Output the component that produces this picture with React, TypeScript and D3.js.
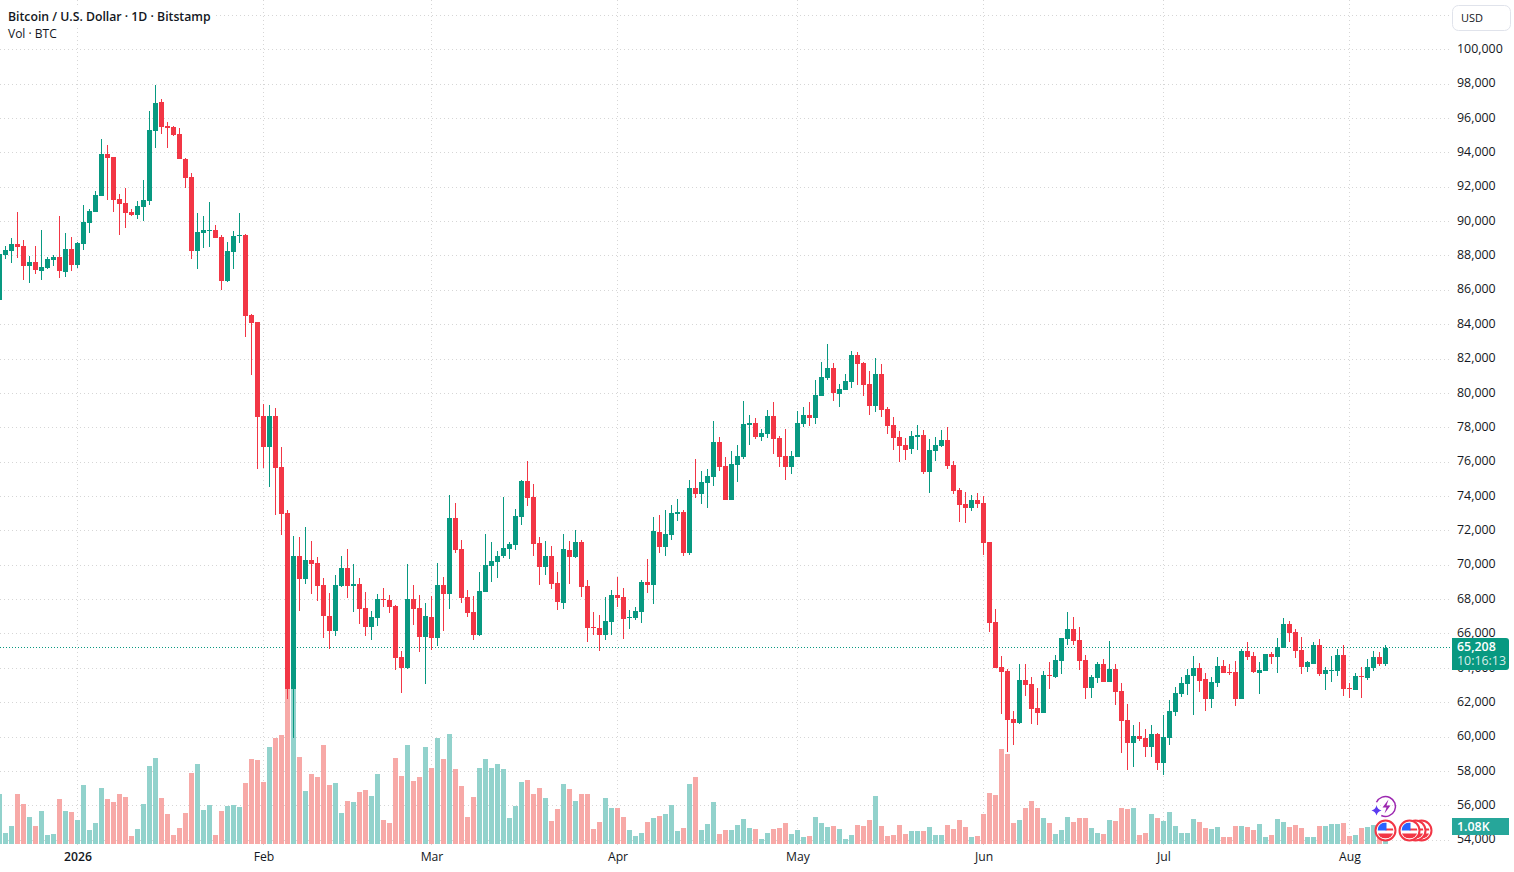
import * as d3 from "d3";
import { useEffect, useRef } from "react";

const WIDTH = 1514;
const HEIGHT = 872;
const FONT = '"Open Sans", "Noto Sans", sans-serif';

const UP = "#089981";
const DOWN = "#f23645";
const VOL_UP = "#92d2cc";
const VOL_DOWN = "#f7a9a7";

// daily candles, first one is 19 Dec 2025
const firstDay = new Date(Date.UTC(2025, 11, 19));

const opens = [
  85450, 88057, 88289, 88694, 88579, 87421, 87652, 87131, 87305, 87768,
  87942, 87073, 88405, 87479, 88694, 89910, 90547, 91474, 93905, 93732,
  91300, 91068, 90547, 90373, 90837, 91184, 95295, 96974, 95585, 95527,
  95121, 93616, 92574, 88289, 89331, 89447, 89505, 89100, 86552, 88231,
  89158, 89215, 84547, 84140, 78669, 76865, 78669, 75701, 73023, 62780,
  70521, 69182, 70288, 70113, 68833, 67029, 66156, 68775, 69822, 68775,
  68891, 67494, 66389, 66913, 68018, 67960, 67611, 64643, 64002, 68018,
  67494, 65807, 66971, 65773, 68858, 68334, 72757, 70953, 68160, 67287,
  65948, 68451, 69964, 70197, 70546, 70953, 71186, 72816, 74911, 73980,
  71302, 69906, 70546, 68975, 67811, 70895, 70488, 71361, 68800, 66413,
  66355, 65948, 66705, 68276, 68160, 66938, 66938, 67287, 69033, 68858,
  71916, 71043, 71741, 72963, 73080, 70693, 74476, 74127, 74767, 75117,
  77154, 75757, 73778, 75815, 76281, 78143, 78259, 77445, 77619, 78667,
  77387, 76339, 75699, 76281, 78201, 78725, 78550, 79831, 80878, 81460,
  79947, 80180, 80646, 82217, 81751, 80529, 79249, 81111, 79091, 78160,
  77462, 76996, 76763, 77462, 77578, 75425, 76647, 76938, 77287, 75832,
  74377, 73562, 73329, 73795, 73620, 71351, 66695, 64076, 63843, 61049,
  60816, 63319, 63086, 61689, 61398, 63595, 63479, 64410, 65690, 66272,
  65632, 64468, 62838, 63420, 64235, 63188, 63944, 62664, 60976, 59637,
  60045, 59928, 59405, 60161, 58473, 59928, 61442, 62489, 63071, 63537,
  64002, 63362, 62198, 63129, 64119, 63770, 63767, 62195, 64989, 64698,
  63708, 63825, 64814, 64640, 65163, 66560, 66095, 65047, 64057, 64232,
  65338, 63650, 63825, 63825, 64756, 62835, 62719, 63534, 63417, 63999,
  64640, 64232,
];

const highs = [
  88200, 88579, 89042, 90547, 88926, 87999, 88579, 89505, 87942, 88058,
  90316, 89331, 89100, 88810, 90953, 90721, 91763, 94832, 94427, 93732,
  91590, 91937, 90721, 91184, 92400, 96453, 97958, 97148, 95816, 95585,
  95469, 93674, 92805, 90489, 90316, 91126, 89795, 89215, 88810, 89447,
  90489, 89273, 84605, 84140, 79367, 79309, 79134, 76865, 73198, 71685,
  71627, 72209, 71394, 70463, 69240, 68367, 69415, 70521, 70928, 70055,
  69240, 68426, 67320, 68309, 68658, 68251, 67669, 64992, 70055, 68833,
  68251, 67786, 68193, 70138, 69324, 74096, 73630, 71477, 68567, 68218,
  69615, 71826, 71361, 70837, 73980, 71361, 73281, 74969, 76075, 74736,
  71652, 71419, 71128, 69615, 71826, 71419, 72059, 71477, 69149, 67287,
  67112, 68160, 68567, 69324, 68683, 67403, 67578, 69149, 70371, 72789,
  72905, 73196, 73487, 73836, 73196, 74942, 76164, 75466, 75582, 78376,
  77445, 76281, 76630, 76979, 79540, 78725, 78550, 77910, 79016, 79482,
  77503, 77910, 76630, 78958, 79191, 79482, 80762, 81810, 82857, 81751,
  80529, 81111, 82450, 82392, 81810, 81286, 82042, 81693, 79208, 78626,
  77811, 77403, 77811, 78160, 77869, 77345, 77462, 77869, 78044, 76065,
  74493, 74261, 74086, 74202, 74028, 71351, 67451, 64716, 63959, 61515,
  64250, 64250, 63494, 62853, 63843, 64352, 64759, 65748, 67262, 66971,
  66389, 64759, 63595, 64352, 64526, 65574, 64235, 63129, 61907, 60685,
  60860, 60452, 60685, 60219, 61267, 62140, 62897, 63479, 63944, 64701,
  64293, 63711, 63479, 64642, 64468, 64235, 64407, 65105, 65513, 64931,
  64349, 64814, 64931, 65745, 66909, 66735, 66269, 65804, 64407, 65513,
  65687, 64057, 64698, 65105, 65338, 63126, 63708, 64057, 64523, 64989,
  64931, 65338,
];

const lows = [
  85300, 87826, 87594, 87884, 86610, 86436, 86957, 86610, 87247, 87421,
  86726, 86784, 87131, 87305, 88347, 89331, 90547, 91474, 91242, 90547,
  89215, 89621, 90316, 90142, 90026, 90953, 94253, 95121, 94253, 95005,
  93616, 91937, 87826, 87247, 88463, 88521, 89042, 86031, 86494, 87247,
  88752, 83286, 81055, 75584, 75642, 74537, 72907, 71743, 62198, 59965,
  67320, 68891, 68309, 67902, 65748, 65108, 65865, 68717, 68076, 67262,
  66563, 65865, 65632, 66447, 67553, 67203, 63886, 62547, 63944, 66505,
  64934, 63071, 65050, 65308, 66181, 67461, 70720, 67810, 66996, 65657,
  65890, 68451, 69033, 69265, 70429, 70371, 70895, 72350, 73456, 70546,
  68858, 69440, 68625, 67403, 67461, 68916, 70429, 68160, 65541, 65948,
  65017, 65657, 65948, 67578, 65715, 66297, 66821, 66646, 68392, 67752,
  70693, 70519, 71450, 72556, 70519, 70577, 73894, 73545, 73312, 74593,
  75466, 73778, 73778, 74826, 76164, 76979, 77328, 77212, 77387, 76455,
  75699, 74942, 75291, 76281, 78027, 78085, 78201, 79831, 80762, 79540,
  79191, 80180, 80296, 80471, 79831, 78725, 78900, 78609, 77636, 76705,
  76007, 76123, 76472, 76705, 75308, 74202, 76065, 76880, 75599, 74144,
  72515, 72456, 73155, 73329, 70594, 66113, 64017, 61340, 59129, 59536,
  60758, 62388, 60758, 60700, 61398, 62780, 63420, 63653, 65341, 65341,
  63886, 62198, 62256, 63129, 63188, 63188, 61849, 59055, 58066, 58241,
  59754, 58822, 58822, 58066, 57775, 59521, 61209, 62315, 62431, 61267,
  62606, 61500, 61674, 62897, 63711, 63595, 61788, 62195, 64465, 63708,
  62486, 63825, 64232, 63708, 65163, 65513, 64581, 63650, 63767, 64232,
  63534, 62719, 63185, 63534, 62370, 62253, 62719, 62253, 63301, 63825,
  64116, 64116,
];

const closes = [
  88115, 88347, 88694, 88521, 87421, 87652, 87189, 87363, 87826, 87942,
  87131, 88405, 87479, 88752, 89968, 90605, 91532, 93905, 93674, 91242,
  91010, 90489, 90373, 90895, 91242, 95353, 96916, 95527, 95469, 95063,
  93616, 92516, 88289, 89389, 89505, 89505, 89042, 86552, 88289, 89158,
  89215, 84508, 84081, 78611, 76865, 78669, 75642, 72965, 62780, 70521,
  69182, 70288, 70055, 68775, 67029, 66156, 68833, 69822, 68775, 68891,
  67436, 66389, 66971, 68018, 67960, 67553, 64584, 64002, 68018, 67436,
  65807, 67029, 65748, 68858, 68334, 72757, 70895, 68101, 67228, 65948,
  68509, 70022, 70255, 70546, 71011, 71244, 72874, 74911, 73921, 71244,
  69906, 70546, 68916, 67869, 70953, 70488, 71361, 68742, 66355, 66355,
  65948, 66763, 68276, 68101, 66879, 66996, 67345, 69033, 68858, 71974,
  71043, 71799, 73021, 73080, 70693, 74476, 74127, 74825, 75175, 77154,
  75699, 73778, 75873, 76339, 78201, 78259, 77445, 77677, 78667, 77328,
  76281, 75699, 76339, 78259, 78725, 78550, 79889, 80937, 81460, 80005,
  80238, 80704, 82217, 81693, 80471, 79249, 81111, 79016, 78102, 77403,
  76938, 76705, 77520, 77578, 75425, 76705, 76996, 77287, 75774, 74319,
  73504, 73329, 73795, 73562, 71292, 66636, 64017, 63785, 60991, 60816,
  63319, 63028, 61631, 61398, 63595, 63537, 64468, 65748, 66272, 65574,
  64410, 62838, 63479, 64235, 63188, 63944, 62606, 60918, 59637, 60045,
  59870, 59405, 60161, 58473, 59987, 61500, 62547, 63129, 63595, 64002,
  63246, 62198, 63188, 64119, 63711, 63711, 62195, 64989, 64640, 63767,
  63883, 64814, 64640, 65222, 66560, 66036, 64989, 64057, 64349, 65338,
  63650, 63883, 63883, 64756, 62777, 62777, 63534, 63476, 64057, 64640,
  64232, 65208,
];

const volumes = [
  2980, 640, 1060, 2980, 2380, 1600, 1060, 1960, 520, 580,
  2680, 1960, 1900, 1420, 3520, 820, 1240, 3340, 2680, 2500,
  2980, 2800, 460, 880, 2380, 4660, 5140, 2740, 1780, 520,
  940, 1840, 4240, 4780, 2020, 2320, 520, 1960, 2260, 2320,
  2200, 3640, 5080, 5020, 3700, 5800, 6340, 6520, 9600, 9400,
  5200, 3160, 4180, 4000, 5920, 3520, 3640, 1840, 2560, 2500,
  3100, 3220, 2860, 4180, 1420, 1240, 5140, 4060, 5920, 3760,
  4000, 5800, 4540, 6340, 5080, 6580, 4480, 3460, 1600, 2800,
  4540, 5080, 4540, 4780, 4480, 1540, 2260, 3700, 3820, 2980,
  3340, 2740, 1360, 2080, 3580, 3280, 2560, 2980, 2980, 880,
  1300, 2740, 2140, 2140, 1600, 820, 460, 640, 1300, 1540,
  1660, 1780, 2320, 760, 940, 3580, 4000, 820, 1180, 2500,
  580, 820, 820, 1120, 1480, 940, 880, 280, 640, 880,
  940, 1240, 580, 820, 400, 460, 1600, 1240, 1000, 1060,
  880, 280, 520, 1120, 1060, 1420, 2860, 1060, 460, 520,
  1120, 580, 760, 760, 760, 1000, 520, 520, 1120, 880,
  1420, 1000, 400, 460, 1780, 3040, 2920, 5680, 5380, 1240,
  1420, 2140, 2560, 2140, 1540, 1240, 580, 820, 1600, 1300,
  1540, 1540, 940, 640, 580, 1420, 1360, 2140, 2080, 2140,
  520, 640, 1780, 1540, 1360, 1900, 1060, 640, 640, 1480,
  1300, 940, 880, 1000, 400, 400, 1060, 1060, 1000, 820,
  1180, 400, 520, 1480, 1300, 1000, 1120, 940, 400, 400,
  1060, 1060, 1180, 1180, 1240, 460, 520, 940, 1000, 1120,
  1120, 1080,
];

const priceTicks = d3.range(54000, 100001, 2000);
const gridPrices = d3.range(54000, 102001, 2000);
const monthStarts = [0, 1, 2, 3, 4, 5, 6, 7].map((m) => new Date(Date.UTC(2026, m, 1)));
const monthLabels = ["2026", "Feb", "Mar", "Apr", "May", "Jun", "Jul", "Aug"];
const flagDays = [new Date(Date.UTC(2026, 7, 13)), new Date(Date.UTC(2026, 7, 12)), new Date(Date.UTC(2026, 7, 11)), new Date(Date.UTC(2026, 7, 7))];

export default function App() {
  const ref = useRef<SVGSVGElement>(null);

  useEffect(() => {
    if (!ref.current) return;
    const svg = d3.select(ref.current);
    svg.selectAll("*").remove();

    const paneRight = 1451;
    const volBase = 844;

    const x = d3
      .scaleUtc()
      .domain([new Date(Date.UTC(2026, 0, 1)), new Date(Date.UTC(2026, 7, 7))])
      .range([77.5, 77.5 + 6 * 218]);
    const y = d3.scaleLinear().domain([54000, 100000]).range([840.2, 49.7]);
    const v = d3.scaleLinear().domain([0, 1080]).range([volBase, volBase - 18]);

    const candles = opens.map((o, i) => ({
      date: d3.utcDay.offset(firstDay, i),
      o,
      h: highs[i],
      l: lows[i],
      c: closes[i],
      vol: volumes[i],
    }));
    const last = candles[candles.length - 1];

    svg.append("defs").append("clipPath").attr("id", "pane").append("rect").attr("width", paneRight).attr("height", volBase + 1);
    svg.select("defs").append("clipPath").attr("id", "flag").append("circle").attr("r", 8);

    const pane = svg.append("g").attr("clip-path", "url(#pane)");

    // grid
    const grid = pane.append("g").attr("stroke", "#d6d6d6").attr("stroke-dasharray", "1 3");
    grid
      .selectAll("line.h")
      .data(gridPrices)
      .join("line")
      .attr("class", "h")
      .attr("x1", 0)
      .attr("x2", paneRight)
      .attr("y1", (d) => Math.floor(y(d)) + 0.5)
      .attr("y2", (d) => Math.floor(y(d)) + 0.5);
    grid
      .selectAll("line.v")
      .data(monthStarts)
      .join("line")
      .attr("class", "v")
      .attr("x1", (d) => x(d))
      .attr("x2", (d) => x(d))
      .attr("y1", 0)
      .attr("y2", volBase + 1);

    // volume
    pane
      .append("g")
      .selectAll("rect")
      .data(candles)
      .join("rect")
      .attr("x", (d) => x(d.date) - 2.5)
      .attr("width", 5)
      .attr("y", (d) => Math.round(v(d.vol)))
      .attr("height", (d) => volBase - Math.round(v(d.vol)))
      .attr("fill", (d) => (d.c >= d.o ? VOL_UP : VOL_DOWN));

    // last price line
    pane
      .append("line")
      .attr("x1", 0)
      .attr("x2", paneRight)
      .attr("y1", Math.floor(y(last.c)) + 0.5)
      .attr("y2", Math.floor(y(last.c)) + 0.5)
      .attr("stroke", UP)
      .attr("stroke-dasharray", "1 2");

    // candles
    const candle = pane.append("g").selectAll("g").data(candles).join("g").attr("fill", (d) => (d.c >= d.o ? UP : DOWN));
    candle
      .append("rect")
      .attr("x", (d) => x(d.date) - 0.5)
      .attr("width", 1)
      .attr("y", (d) => Math.round(y(d.h)))
      .attr("height", (d) => Math.round(y(d.l)) - Math.round(y(d.h)));
    candle
      .append("rect")
      .attr("x", (d) => x(d.date) - 2.5)
      .attr("width", 5)
      .attr("y", (d) => Math.round(y(Math.max(d.o, d.c))))
      .attr("height", (d) => Math.max(1, Math.round(y(Math.min(d.o, d.c))) - Math.round(y(Math.max(d.o, d.c)))));

    // price axis
    const priceAxis = svg
      .append("g")
      .attr("transform", "translate(1457,0)")
      .call(d3.axisRight(y).tickValues(priceTicks).tickFormat(d3.format(",") as any).tickSize(0).tickPadding(0));
    priceAxis.select(".domain").remove();
    priceAxis
      .selectAll("text")
      .attr("y", -1.3)
      .attr("fill", "#131722")
      .style("font-family", FONT)
      .style("font-size", "12.4px");

    // time axis
    const timeAxis = svg
      .append("g")
      .attr("transform", `translate(0,${volBase})`)
      .call(
        d3
          .axisBottom(x)
          .tickValues(monthStarts)
          .tickFormat((_, i) => monthLabels[i])
          .tickSize(0)
          .tickPadding(8)
      );
    timeAxis.select(".domain").remove();
    timeAxis
      .selectAll("text")
      .attr("fill", "#131722")
      .style("font-family", FONT)
      .style("font-size", "12.2px")
      .style("font-weight", (_, i) => (i === 0 ? 600 : 400));

    // legend
    svg.append("rect").attr("x", 0).attr("y", 8).attr("width", 214).attr("height", 17).attr("fill", "#fff");
    svg
      .append("text")
      .attr("x", 8)
      .attr("y", 20.5)
      .attr("font-family", FONT)
      .attr("font-size", 12.25)
      .attr("font-weight", 600)
      .attr("fill", "#131722")
      .text("Bitcoin / U.S. Dollar · 1D · Bitstamp");
    svg
      .append("text")
      .attr("x", 8)
      .attr("y", 37.5)
      .attr("font-family", FONT)
      .attr("font-size", 12)
      .attr("fill", "#131722")
      .text("Vol · BTC");

    // currency button
    svg
      .append("rect")
      .attr("x", 1452.5)
      .attr("y", 5.5)
      .attr("width", 58)
      .attr("height", 25)
      .attr("rx", 6)
      .attr("fill", "#fff")
      .attr("stroke", "#e0e3eb");
    svg
      .append("text")
      .attr("x", 1461)
      .attr("y", 21.5)
      .attr("font-family", FONT)
      .attr("font-size", 11)
      .attr("fill", "#131722")
      .text("USD");

    // last price box
    svg
      .append("path")
      .attr("d", "M1452,638H1506a3,3 0 0 1 3,3V667a3,3 0 0 1 -3,3H1452Z")
      .attr("fill", UP);
    svg
      .append("text")
      .attr("x", 1457)
      .attr("y", 651)
      .attr("font-family", FONT)
      .attr("font-size", 12.4)
      .attr("font-weight", 600)
      .attr("fill", "#fff")
      .text(d3.format(",")(last.c));
    svg
      .append("text")
      .attr("x", 1457)
      .attr("y", 665)
      .attr("font-family", FONT)
      .attr("font-size", 12.4)
      .attr("fill", "#fff")
      .attr("fill-opacity", 0.85)
      .text("10:16:13");

    // last volume box
    svg.append("rect").attr("x", 1452).attr("y", 818).attr("width", 57).attr("height", 17).attr("fill", "#26a69a");
    svg
      .append("text")
      .attr("x", 1457)
      .attr("y", 831)
      .attr("font-family", FONT)
      .attr("font-size", 12.4)
      .attr("font-weight", 600)
      .attr("fill", "#fff")
      .text("1.08K");

    // event markers
    const flagGroup = svg
      .append("g")
      .selectAll("g")
      .data(flagDays)
      .join("g")
      .attr("transform", (d) => `translate(${x(d)},830.5)`);
    flagGroup.append("circle").attr("r", 10).attr("fill", "#fff").attr("stroke", DOWN).attr("stroke-width", 2);
    const flag = flagGroup.append("g").attr("clip-path", "url(#flag)");
    flag.append("rect").attr("x", -8).attr("y", -8).attr("width", 16).attr("height", 16).attr("fill", "#fff");
    flag.append("rect").attr("x", -8).attr("y", 3).attr("width", 16).attr("height", 5).attr("fill", DOWN);
    flag.append("rect").attr("x", 0).attr("y", -2).attr("width", 8).attr("height", 2).attr("fill", DOWN);
    flag.append("rect").attr("x", -8).attr("y", -8).attr("width", 9).attr("height", 8).attr("fill", "#2962ff");

    const spark = svg
      .append("g")
      .attr("transform", `translate(${x(new Date(Date.UTC(2026, 7, 7)))},806.5)`);
    const ring = d3.arc()({
      innerRadius: 9.2,
      outerRadius: 10.7,
      startAngle: (-65 * Math.PI) / 180,
      endAngle: (205 * Math.PI) / 180,
    });
    spark.append("path").attr("d", ring as string).attr("fill", "#9c27b0");
    spark.append("path").attr("d", "M3,-7L-3,1H1L-1,7L5,-1H1Z").attr("fill", "#9c27b0");
    spark.append("path").attr("d", "M-9,-1Q-8,3 -4,4Q-8,5 -9,9Q-10,5 -14,4Q-10,3 -9,-1Z").attr("fill", "#5b3cf0");
  }, []);

  return (
    <svg
      ref={ref}
      width={WIDTH}
      height={HEIGHT}
      style={{ position: "absolute", left: 0, top: 0, background: "#fff", display: "block" }}
    />
  );
}
